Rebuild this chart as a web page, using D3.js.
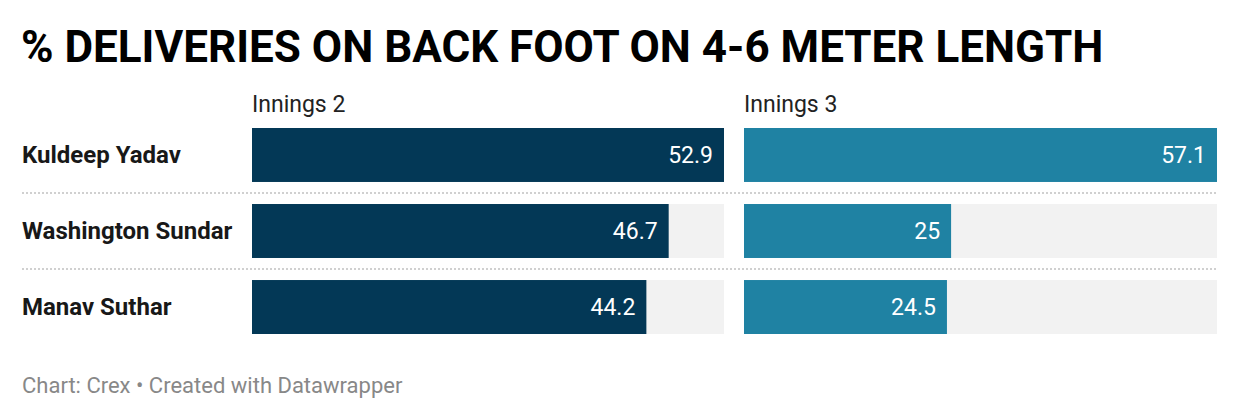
<!DOCTYPE html>
<html>
<head>
<meta charset="utf-8">
<script src="https://cdn.jsdelivr.net/npm/d3@7"></script>
<style>
  body { margin: 0; background: #fff; }
  svg text { font-family: Roboto, "Noto Sans", sans-serif; }
</style>
</head>
<body>
<div id="chart"></div>
<script>
// data
const players = ["Kuldeep Yadav", "Washington Sundar", "Manav Suthar"];
const innings2 = [52.9, 46.7, 44.2];
const innings3 = [57.1, 25, 24.5];
const columnLabels = ["Innings 2", "Innings 3"];

const svgWidth = 1240, svgHeight = 420;

const svg = d3.select("#chart")
  .append("svg")
  .attr("width", svgWidth)
  .attr("height", svgHeight);

// title
svg.append("text")
  .attr("x", 21)
  .attr("y", 62)
  .attr("font-size", 44)
  .attr("font-weight", 700)
  .attr("fill", "#000")
  .text("% DELIVERIES ON BACK FOOT ON 4-6 METER LENGTH");

// row scale
const y = d3.scaleBand()
  .domain(players)
  .range([128, 334])
  .paddingInner(0.29)
  .paddingOuter(0);

// column definitions
const columns = [
  { label: columnLabels[0], values: innings2, range: [252, 724], color: "#033856" },
  { label: columnLabels[1], values: innings3, range: [744, 1217], color: "#1f82a3" }
];

// dotted separators between rows
svg.selectAll("line.sep")
  .data(players.slice(1))
  .enter()
  .append("line")
  .attr("class", "sep")
  .attr("x1", 22)
  .attr("x2", 1217)
  .attr("y1", d => y(d) - (y.step() - y.bandwidth()) / 2)
  .attr("y2", d => y(d) - (y.step() - y.bandwidth()) / 2)
  .attr("stroke", "#d0d0d0")
  .attr("stroke-width", 2)
  .attr("stroke-dasharray", "2,2");

// player names
svg.selectAll("text.name")
  .data(players)
  .enter()
  .append("text")
  .attr("class", "name")
  .attr("x", 22)
  .attr("y", d => y(d) + y.bandwidth() / 2)
  .attr("dy", "0.35em")
  .attr("font-size", 24)
  .attr("font-weight", 700)
  .attr("fill", "#181818")
  .text(d => d);

columns.forEach(function(col) {
  const x = d3.scaleLinear()
    .domain([0, d3.max(col.values)])
    .range(col.range);

  const g = svg.append("g");

  g.append("text")
    .attr("x", col.range[0])
    .attr("y", 112)
    .attr("font-size", 23)
    .attr("fill", "#222")
    .text(col.label);

  // grey background
  g.selectAll("rect.bg")
    .data(players)
    .enter()
    .append("rect")
    .attr("x", col.range[0])
    .attr("y", d => y(d))
    .attr("width", col.range[1] - col.range[0])
    .attr("height", y.bandwidth())
    .attr("fill", "#f2f2f2");

  const rows = players.map((p, i) => ({ name: p, value: col.values[i] }));

  g.selectAll("rect.bar")
    .data(rows)
    .enter()
    .append("rect")
    .attr("x", x(0))
    .attr("y", d => y(d.name))
    .attr("width", d => x(d.value) - x(0))
    .attr("height", y.bandwidth())
    .attr("fill", col.color);

  g.selectAll("text.val")
    .data(rows)
    .enter()
    .append("text")
    .attr("x", d => x(d.value) - 11)
    .attr("y", d => y(d.name) + y.bandwidth() / 2)
    .attr("dy", "0.36em")
    .attr("text-anchor", "end")
    .attr("font-size", 23)
    .attr("font-weight", 400)
    .attr("fill", "#fff")
    .text(d => d.value);
});

// footer
svg.append("text")
  .attr("x", 22)
  .attr("y", 393)
  .attr("font-size", 22)
  .attr("fill", "#888")
  .text("Chart: Crex \u2022 Created with Datawrapper");
</script>
</body>
</html>
